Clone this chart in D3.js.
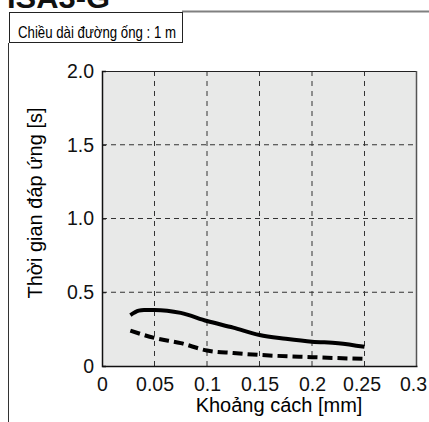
<!DOCTYPE html>
<html>
<head>
<meta charset="utf-8">
<script src="https://cdn.jsdelivr.net/npm/d3@7"></script>
<style>
  body { margin: 0; background: #fff; }
  svg { display: block; font-family: "Liberation Sans", Arial, sans-serif; }
</style>
</head>
<body>
<div class="chart"></div>
<script>
// distance [mm]
let distSolid = [0.027, 0.035, 0.04, 0.05, 0.075, 0.1, 0.125, 0.15, 0.175, 0.2, 0.225, 0.25];
let timeSolid = [0.345, 0.375, 0.38, 0.38, 0.36, 0.305, 0.26, 0.21, 0.185, 0.165, 0.155, 0.13];
let distDashed = [0.027, 0.05, 0.075, 0.1, 0.125, 0.15, 0.2, 0.25];
let timeDashed = [0.24, 0.19, 0.155, 0.105, 0.088, 0.075, 0.06, 0.048];
let xTicks = [0, 0.05, 0.1, 0.15, 0.2, 0.25, 0.3];
let xTickLabels = ["0", "0.05", "0.1", "0.15", "0.2", "0.25", "0.3"];
let yTicks = [0, 0.5, 1.0, 1.5, 2.0];
let yTickLabels = ["0", "0.5", "1.0", "1.5", "2.0"];

let W = 429, H = 422;
let margin = {top: 71, right: 12, bottom: 56, left: 102},
    width = W - margin.left - margin.right,
    height = H - margin.top - margin.bottom;

let root = d3.select(".chart").append("svg")
    .attr("width", W)
    .attr("height", H);

// cut-off heading and the condition box
root.append("text")
    .attr("x", 7).attr("y", 8)
    .attr("font-size", 30).attr("font-weight", "bold")
    .attr("textLength", 103).attr("lengthAdjust", "spacingAndGlyphs")
    .attr("fill", "#111")
    .text("ISA3-G");

root.append("line")
    .attr("x1", 182).attr("y1", 11.5).attr("x2", W).attr("y2", 11.5)
    .attr("stroke", "#808080").attr("stroke-width", 2);
root.append("rect")
    .attr("x", 9.5).attr("y", 12.5).attr("width", 173).attr("height", 30)
    .attr("fill", "#fff").attr("stroke", "#222").attr("stroke-width", 1);
root.append("text")
    .attr("x", 18).attr("y", 38)
    .attr("font-size", 17)
    .attr("textLength", 158).attr("lengthAdjust", "spacingAndGlyphs")
    .text("Chiều dài đường ống : 1 m");
root.append("line")
    .attr("x1", 8.5).attr("y1", 43).attr("x2", 8.5).attr("y2", H)
    .attr("stroke", "#333").attr("stroke-width", 1);

let svg = root.append("g")
    .attr("transform", "translate(" + margin.left + "," + margin.top + ")");

let x = d3.scaleLinear().domain([0, 0.3]).range([0, width]);
let y = d3.scaleLinear().domain([0, 2.0]).range([height, 0]);

svg.append("rect")
    .attr("width", width).attr("height", height)
    .attr("fill", "#e8e9e8");

// grid
svg.selectAll(".vgrid")
    .data(xTicks.slice(1, -1))
    .enter().append("line")
    .attr("x1", d => x(d)).attr("x2", d => x(d))
    .attr("y1", 0).attr("y2", height)
    .attr("stroke", "#333").attr("stroke-width", 1)
    .attr("stroke-dasharray", "5,5");
svg.selectAll(".hgrid")
    .data(yTicks.slice(1, -1))
    .enter().append("line")
    .attr("x1", 0).attr("x2", width)
    .attr("y1", d => y(d)).attr("y2", d => y(d))
    .attr("stroke", "#333").attr("stroke-width", 1)
    .attr("stroke-dasharray", "5,4");

// frame
svg.append("line").attr("x1", 0).attr("x2", width).attr("y1", 0.5).attr("y2", 0.5)
    .attr("stroke", "#222");
svg.append("line").attr("x1", width - 0.5).attr("x2", width - 0.5).attr("y1", 0).attr("y2", height)
    .attr("stroke", "#555").attr("stroke-width", 1.5);

// axes
let xAxis = svg.append("g")
    .attr("transform", "translate(0," + height + ")")
    .call(d3.axisBottom(x).tickValues(xTicks).tickSize(0).tickPadding(10)
        .tickFormat((d, i) => xTickLabels[i]));
let yAxis = svg.append("g")
    .call(d3.axisLeft(y).tickValues(yTicks).tickSize(-4).tickPadding(8)
        .tickFormat((d, i) => yTickLabels[i]));
[xAxis, yAxis].forEach(a => {
    a.select(".domain").attr("stroke", "#111").attr("stroke-width", 1.5);
    a.selectAll("text").attr("font-size", 19.5).attr("fill", "#111")
        .attr("font-family", "Liberation Sans, Arial, sans-serif");
    a.selectAll(".tick line").attr("stroke", "#111");
});
xAxis.selectAll("text").attr("dy", "0.75em");
// last labels sit a little to the left in the original
xAxis.selectAll("text").filter(d => d >= 0.3).attr("dx", -4);
xAxis.selectAll("text").filter(d => d > 0.2 && d < 0.3).attr("dx", -3);

// series
let line = d3.line().x(d => x(d[0])).y(d => y(d[1])).curve(d3.curveMonotoneX);
svg.append("path")
    .datum(d3.zip(distSolid, timeSolid))
    .attr("d", line)
    .attr("fill", "none").attr("stroke", "#000").attr("stroke-width", 4);
svg.append("path")
    .datum(d3.zip(distDashed, timeDashed))
    .attr("d", line)
    .attr("fill", "none").attr("stroke", "#000").attr("stroke-width", 4)
    .attr("stroke-dasharray", "10,5");

// axis titles
svg.append("text")
    .attr("x", 177).attr("y", height + 46)
    .attr("text-anchor", "middle").attr("font-size", 20)
    .text("Khoảng cách [mm]");
svg.append("text")
    .attr("transform", "translate(-60,132)rotate(-90)")
    .attr("text-anchor", "middle").attr("font-size", 20)
    .text("Thời gian đáp ứng [s]");
</script>
</body>
</html>
